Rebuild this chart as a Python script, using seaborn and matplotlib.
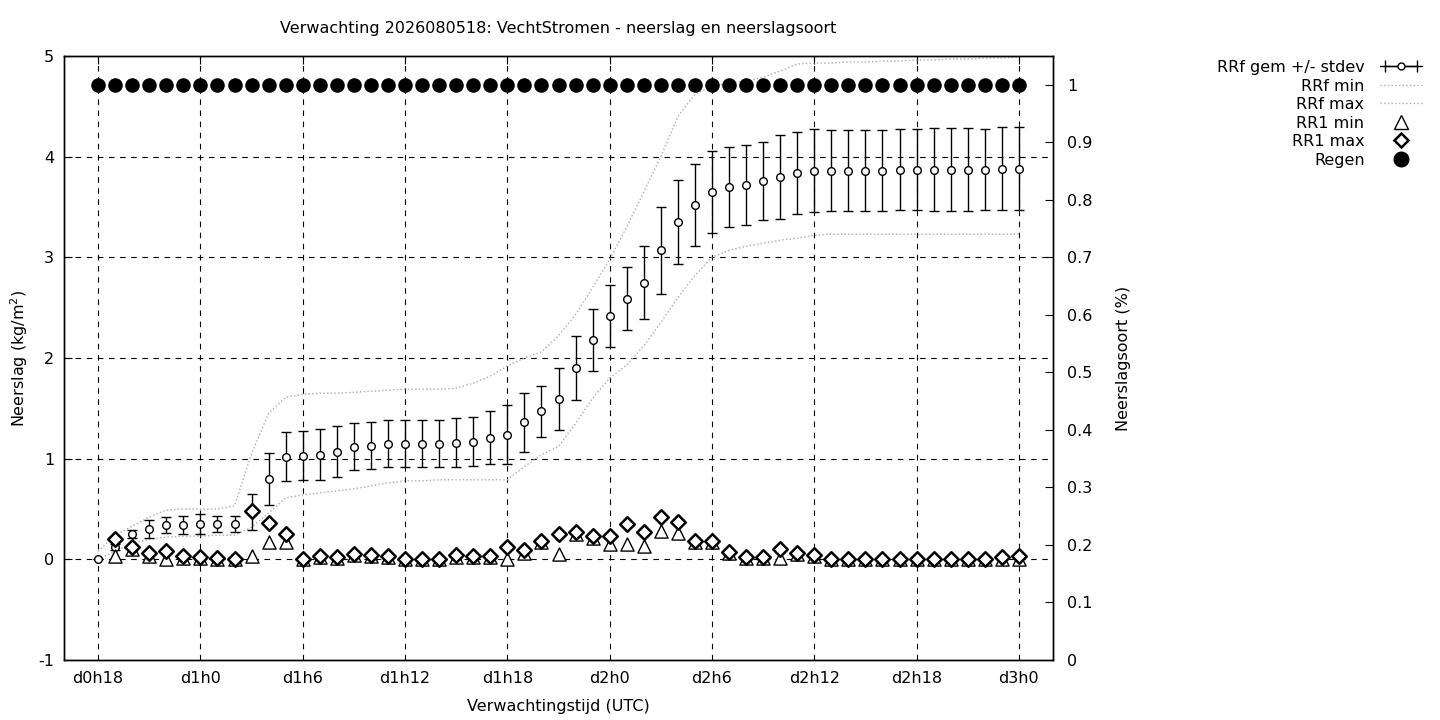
import matplotlib
matplotlib.use("Agg")
import matplotlib.pyplot as plt
from matplotlib.lines import Line2D
from matplotlib.legend_handler import HandlerLine2D, HandlerTuple
import seaborn as sns
import numpy as np

# hours since d0h18 (hourly forecast steps)
hours = list(range(55))
tick_hours = [0, 6, 12, 18, 24, 30, 36, 42, 48, 54]
tick_labels = ['d0h18', 'd1h0', 'd1h6', 'd1h12', 'd1h18',
               'd2h0', 'd2h6', 'd2h12', 'd2h18', 'd3h0']

# RRf gem (cumulative mean) and stdev
rrf_mean = [0.00, 0.12, 0.25, 0.30, 0.34, 0.34, 0.35, 0.35, 0.35, 0.47,
            0.80, 1.02, 1.03, 1.04, 1.07, 1.12, 1.13, 1.15, 1.15, 1.15,
            1.15, 1.16, 1.17, 1.21, 1.24, 1.36, 1.47, 1.59, 1.90, 2.18,
            2.42, 2.59, 2.75, 3.07, 3.35, 3.52, 3.65, 3.70, 3.72, 3.76,
            3.80, 3.84, 3.86, 3.86, 3.86, 3.86, 3.86, 3.87, 3.87, 3.87,
            3.87, 3.87, 3.87, 3.88, 3.88]
rrf_sd = [0.00, 0.03, 0.04, 0.09, 0.08, 0.09, 0.10, 0.08, 0.08, 0.18,
          0.26, 0.245, 0.245, 0.255, 0.25, 0.235, 0.23, 0.23, 0.23, 0.23,
          0.23, 0.24, 0.24, 0.26, 0.29, 0.295, 0.25, 0.31, 0.32, 0.31,
          0.31, 0.31, 0.365, 0.43, 0.42, 0.41, 0.41, 0.40, 0.395, 0.39,
          0.415, 0.41, 0.41, 0.40, 0.40, 0.40, 0.40, 0.40, 0.40, 0.41,
          0.41, 0.41, 0.40, 0.41, 0.41]

# RRf min / max (cumulative)
rrf_min = [0.00, 0.08, 0.16, 0.20, 0.22, 0.23, 0.23, 0.24, 0.24, 0.32,
           0.46, 0.61, 0.64, 0.66, 0.68, 0.70, 0.73, 0.76, 0.78, 0.78,
           0.79, 0.79, 0.79, 0.79, 0.79, 0.92, 1.04, 1.12, 1.35, 1.60,
           1.80, 1.93, 2.12, 2.35, 2.60, 2.82, 3.00, 3.07, 3.11, 3.14,
           3.17, 3.19, 3.22, 3.23, 3.23, 3.23, 3.23, 3.23, 3.23, 3.23,
           3.23, 3.23, 3.23, 3.23, 3.23]
rrf_max = [0.08, 0.24, 0.33, 0.42, 0.49, 0.50, 0.50, 0.50, 0.53, 1.05,
           1.45, 1.61, 1.64, 1.65, 1.65, 1.66, 1.67, 1.68, 1.69, 1.69,
           1.69, 1.70, 1.75, 1.82, 1.92, 2.00, 2.06, 2.22, 2.43, 2.70,
           2.98, 3.30, 3.65, 4.00, 4.40, 4.62, 4.70, 4.73, 4.75, 4.79,
           4.85, 4.92, 4.93, 4.93, 4.94, 4.94, 4.95, 4.95, 4.96, 4.96,
           4.97, 4.97, 4.98, 4.98, 4.99]

# RR1 (hourly) min / max
nan = np.nan
rr1_min = [nan, 0.03, 0.10, 0.03, 0.00, 0.01, 0.01, 0.00, 0.00, 0.03,
           0.17, 0.17, 0.00, 0.02, 0.01, 0.04, 0.03, 0.02, 0.00, 0.00,
           0.00, 0.02, 0.02, 0.02, 0.00, 0.065, 0.17, 0.05, 0.25, 0.21,
           0.155, 0.155, 0.13, 0.28, 0.265, 0.17, 0.17, 0.06, 0.01, 0.01,
           0.015, 0.05, 0.03, 0.00, 0.00, 0.00, 0.00, 0.00, 0.00, 0.00,
           0.00, 0.00, 0.00, 0.00, 0.00]
rr1_max = [nan, 0.20, 0.12, 0.065, 0.08, 0.03, 0.02, 0.01, 0.00, 0.48,
           0.365, 0.25, 0.00, 0.03, 0.02, 0.055, 0.045, 0.035, 0.00, 0.00,
           0.00, 0.04, 0.035, 0.035, 0.12, 0.095, 0.18, 0.25, 0.27, 0.23,
           0.23, 0.355, 0.27, 0.425, 0.37, 0.18, 0.18, 0.07, 0.025, 0.025,
           0.105, 0.06, 0.04, 0.005, 0.00, 0.005, 0.00, 0.00, 0.00, 0.00,
           0.00, 0.00, 0.005, 0.025, 0.03]

# neerslagsoort: regen (fraction)
regen = [1.0] * 55

title = 'Verwachting 2026080518: VechtStromen - neerslag en neerslagsoort'

sns.set_style("white")
plt.rcParams['font.family'] = ['DejaVu Sans']
plt.rcParams['font.size'] = 11.5
plt.rcParams['axes.unicode_minus'] = False
plt.rcParams['text.color'] = 'black'
plt.rcParams['axes.labelcolor'] = 'black'
fs = 11.5

fig = plt.figure(figsize=(14.4, 7.2), dpi=100)
ax = fig.add_axes([64 / 1440, 60 / 720, (1053 - 64) / 1440, (660 - 56) / 720])
ax2 = ax.twinx()

grid_style = dict(color='black', linestyle=(0, (5, 5)), linewidth=0.8)
for t in tick_hours:
    ax.axvline(t, zorder=0, **grid_style)
for yv in [0, 1, 2, 3, 4]:
    ax.axhline(yv, zorder=0, **grid_style)

ax.errorbar(hours, rrf_mean, yerr=rrf_sd, fmt='o', color='black',
            mfc='white', mec='black', ms=5.5, mew=1, elinewidth=1,
            capsize=3.6, capthick=1, zorder=3)
sns.lineplot(x=hours, y=rrf_min, ax=ax, color='#aaaaaa', linestyle=':',
             linewidth=1, zorder=2)
sns.lineplot(x=hours, y=rrf_max, ax=ax, color='#aaaaaa', linestyle=':',
             linewidth=1, zorder=2)
sns.scatterplot(x=hours, y=rr1_min, ax=ax, marker='^', s=90, color='white',
                edgecolor='black', linewidth=1, zorder=4)
sns.scatterplot(x=hours, y=rr1_max, ax=ax, marker='D', s=55, color='white',
                edgecolor='black', linewidth=1.8, zorder=5)
sns.scatterplot(x=hours, y=regen, ax=ax2, marker='o', s=110, color='black',
                edgecolor='black', linewidth=0, zorder=5)

ax.set_xlim(-2, 56)
ax.set_ylim(-1, 5)
ax.set_xticks(tick_hours)
ax.set_xticklabels(tick_labels)
ax.set_yticks([-1, 0, 1, 2, 3, 4, 5])
ax2.set_ylim(0, 1.05)
rticks = [i / 10 for i in range(11)]
ax2.set_yticks(rticks)
ax2.set_yticklabels(['0' if v == 0 else ('1' if v == 1 else f'{v:.1f}') for v in rticks])

for a in (ax, ax2):
    for sp in a.spines.values():
        sp.set_color('black')
        sp.set_linewidth(1)
ax.tick_params(axis='both', direction='in', length=6, width=0.8, pad=8,
               labelsize=fs, colors='black', top=True)
ax.tick_params(axis='y', right=False, pad=7)
ax2.tick_params(axis='y', direction='in', length=6, width=0.8, pad=10,
                labelsize=fs, colors='black')

ax.set_xlabel('Verwachtingstijd (UTC)', fontsize=fs, labelpad=9)
ax.set_ylabel('Neerslag (kg/m$^2$)', fontsize=fs, labelpad=6)
ax2.set_ylabel('Neerslagsoort (%)', fontsize=fs, rotation=90, labelpad=17)
fig.text(558.5 / 1440, 1 - 29 / 720, title, ha='center', va='center',
         fontsize=fs)

# legend, gnuplot style: text right-aligned, symbol on the right
h_mean = Line2D([0], [0], color='black', lw=1, marker='o', mfc='white',
                mec='black', ms=5)
h_caps = Line2D([0], [0], color='black', lw=1, marker='|', ms=8)
h_min = Line2D([0], [0], color='#aaaaaa', lw=1, linestyle=':')
h_max = Line2D([0], [0], color='#aaaaaa', lw=1, linestyle=':')
h_tri = Line2D([0], [0], linestyle='none', marker='^', ms=9.5,
               mfc='white', mec='black', mew=1)
h_dia = Line2D([0], [0], linestyle='none', marker='D', ms=7,
               mfc='white', mec='black', mew=1.8)
h_reg = Line2D([0], [0], linestyle='none', marker='o', ms=10.5,
               mfc='black', mec='black')
fig.legend([(h_caps, h_mean), h_min, h_max, h_tri, h_dia, h_reg],
           ['RRf gem +/- stdev', 'RRf min', 'RRf max', 'RR1 min', 'RR1 max',
            'Regen'],
           handler_map={h_caps: HandlerLine2D(numpoints=2),
                        tuple: HandlerTuple(ndivide=1)},
           loc='upper right', bbox_to_anchor=(1422 / 1440, 1 - 60 / 720),
           markerfirst=False, frameon=False, borderpad=0, borderaxespad=0,
           handlelength=2.6, handletextpad=1.0, labelspacing=0.22,
           fontsize=fs)

fig.savefig('out.png', dpi=100)
